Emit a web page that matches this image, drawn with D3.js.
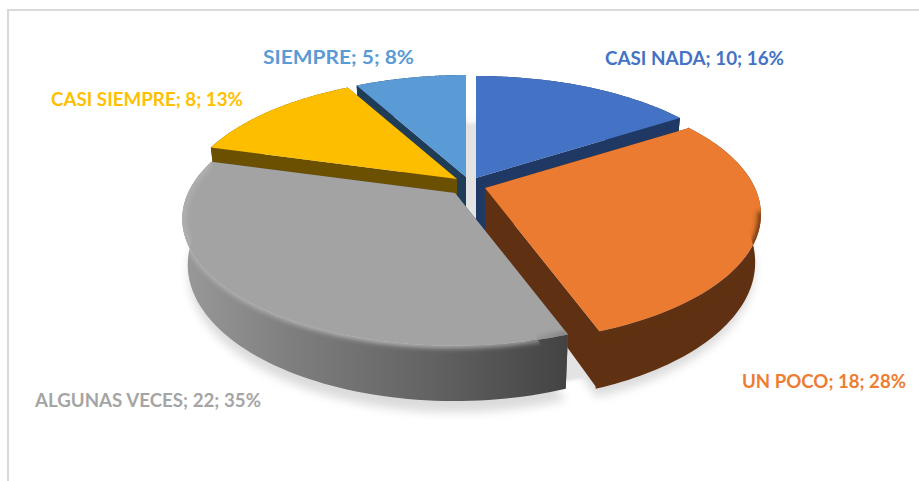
<!DOCTYPE html>
<html><head><meta charset="utf-8">
<script src="https://cdn.jsdelivr.net/npm/d3@7"></script>
<style>html,body{margin:0;padding:0;background:#fff;overflow:hidden}text{font-family:Lato,"Open Sans",sans-serif;font-weight:700}</style>
</head><body><svg id="c" width="919" height="481"></svg>
<script>
const categories=["CASI NADA","UN POCO","ALGUNAS VECES","CASI SIEMPRE","SIEMPRE"];
const values=[10,18,22,8,5];
const percents=[16,28,35,13,8];
const colors=["#4472C4","#EB7B30","#A3A3A3","#FDBE00","#5B9BD5"];
const labelColors=["#4472C4","#ED7D31","#A5A5A5","#FFC000","#5B9BD5"];
const wallColors=["#203864","#5F3112","#6e6e6e","#6A5000","#1F3D56"];
const apexX=[476,485,455,457,466];
const apexY=[178,188,193,179,177];
const radii=[270,270,267,270,270];
const depths=[56,46,44,44,44];
const labelX=[605,742,35,51,263];
const labelRight=[784,906,261,243,414];
const labelY=[65,388,407,106,64];
const drawOrder=[4,0,3,1,2];

const D=4.85*270,T=123/270,H=44,TAPER=0.02;
const svg=d3.select("#c");
const defs=svg.append("defs");
const blur=(id,s)=>defs.append("filter").attr("id",id).attr("x","-20%").attr("y","-20%").attr("width","140%").attr("height","140%")
  .append("feGaussianBlur").attr("stdDeviation",s);
blur("b5",5);blur("b2",2.4);blur("b1",1.6);

const arcs=d3.pie().sort(null).startAngle(0).endAngle(2*Math.PI)(values);
function proj(i,a,r,h){
  const x=r*Math.sin(a),y=r*Math.cos(a),s=D/(D+y);
  return [apexX[i]+x*s*(1-TAPER*h/H), apexY[i]-T*y*s+h*s];
}
const line=d3.line();
const samples=(a0,a1,n=80)=>d3.range(n+1).map(k=>a0+(a1-a0)*k/n);

svg.append("rect").attr("x",8).attr("y",10).attr("width",960).attr("height",560)
  .attr("fill","#fff").attr("stroke","#D9D9D9").attr("stroke-width",2);

const shadow=svg.append("g").attr("filter","url(#b5)").attr("fill","#000").attr("fill-opacity",.14);
arcs.forEach((d,i)=>{
  const R=radii[i];
  const pts=samples(d.startAngle,d.endAngle).map(a=>proj(i,a,R,H+9));
  shadow.append("path").attr("d",line([proj(i,0,0,H+9),...pts])+"Z");
});
const disc=samples(0,2*Math.PI,160).map(a=>proj(0,a,259,H+9).map((v,k)=>k?v:v-6));
svg.append("path").attr("fill","#E3E3E3").attr("d",line(disc)+"Z").attr("filter","url(#b1)");

const g=defs.append("linearGradient").attr("id","wallGrey").attr("gradientUnits","userSpaceOnUse")
  .attr("x1",182).attr("x2",568).attr("y1",0).attr("y2",0);
[[0,"#999999"],[.3,"#7d7d7d"],[.65,"#626262"],[1,"#434343"]].forEach(s=>g.append("stop").attr("offset",s[0]).attr("stop-color",s[1]));
const gr=defs.append("linearGradient").attr("id","rimGrey").attr("gradientUnits","userSpaceOnUse")
  .attr("x1",182).attr("x2",568).attr("y1",0).attr("y2",0);
[[0,"#b0b0b0"],[.6,"#b8b8b8"],[.88,"#a4a4a4"],[1,"#7c7c7c"]].forEach(s=>gr.append("stop").attr("offset",s[0]).attr("stop-color",s[1]));

drawOrder.forEach(i=>{
  const d=arcs[i],R=radii[i],h=depths[i];
  const G=svg.append("g");
  const wallFill=i===2?"url(#wallGrey)":wallColors[i];
  const as=samples(d.startAngle,d.endAngle);
  const over=i===1?0.005:0;
  const asw=samples(d.startAngle-over,d.endAngle+over);
  [d.startAngle,d.endAngle].forEach(a=>{
    G.append("path").attr("fill",i===2?"#5a5a5a":wallColors[i])
      .attr("d",line([proj(i,a,0,0),proj(i,a,R,0),proj(i,a,R,h),proj(i,a,0,h)])+"Z");
  });
  G.append("path").attr("fill",wallFill)
    .attr("d",line([...asw.map(a=>proj(i,a,R,0)),...asw.slice().reverse().map(a=>proj(i,a,R,h))])+"Z");
  const topPts=[proj(i,0,0,0),...as.map(a=>proj(i,a,R,0))];
  G.append("path").attr("fill",colors[i]).attr("d",line(topPts)+"Z");
  const clipId="clip"+i;
  defs.append("clipPath").attr("id",clipId).append("path")
    .attr("d",line([proj(i,0,0,0),...as.map(a=>proj(i,a,R,0)),...as.slice().reverse().map(a=>proj(i,a,R,h))])+"Z");
  if(i===1){
    const vis=samples(1.75,d.endAngle);
    G.append("g").attr("clip-path",`url(#${clipId})`).append("path").attr("fill","none").attr("stroke","#5F3112").attr("stroke-width",6)
      .attr("filter","url(#b2)").attr("d",line(vis.map(a=>proj(i,a,R,1))));
  }
  if(i===2){
    const vis=samples(d.startAngle,d.endAngle);
    G.append("g").attr("clip-path",`url(#${clipId})`).append("path").attr("fill","none").attr("stroke","url(#rimGrey)").attr("stroke-width",6)
      .attr("filter","url(#b2)").attr("d",line(vis.map(a=>proj(i,a,R-1,0))));
  }
});

svg.append("g").selectAll("text").data(categories).join("text")
  .attr("x",(d,i)=>labelX[i]).attr("y",(d,i)=>labelY[i])
  .attr("fill",(d,i)=>labelColors[i]).attr("font-size",19)
  .attr("textLength",(d,i)=>labelRight[i]-labelX[i]).attr("lengthAdjust","spacingAndGlyphs")
  .text((d,i)=>`${d}; ${values[i]}; ${percents[i]}%`);
</script></body></html>
